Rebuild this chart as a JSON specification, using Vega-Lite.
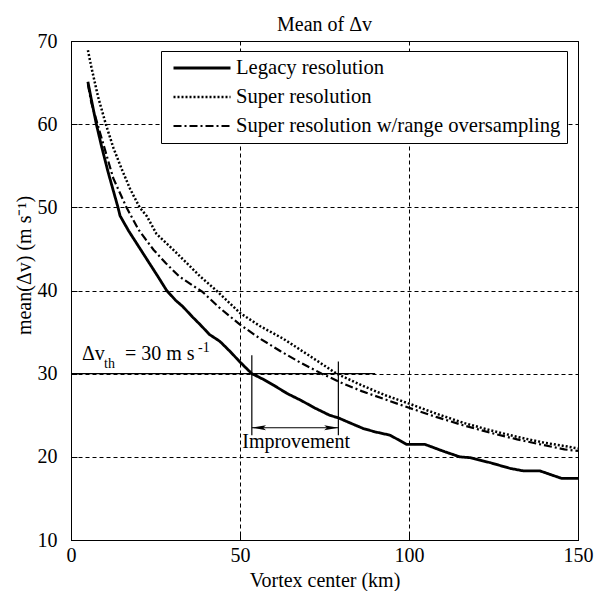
{
  "$schema": "https://vega.github.io/schema/vega-lite/v6.json",
  "width": 507,
  "height": 499,
  "autosize": {"type": "none"},
  "padding": {"left": 71, "top": 41, "right": 16, "bottom": 51},
  "title": {"text": "Mean of Δv", "fontSize": 20, "fontWeight": "normal", "font": "Liberation Serif", "color": "black", "baseline": "bottom", "offset": 4, "dy": 28},
  "config": {
    "font": "Liberation Serif",
    "view": {"stroke": "black", "strokeWidth": 1},
    "axis": {
      "grid": true, "gridColor": "black", "gridDash": [4, 3], "gridOpacity": 1, "gridWidth": 1,
      "domainColor": "black", "domainWidth": 1, "tickColor": "black", "tickSize": -6, "tickWidth": 1,
      "labelFontSize": 20, "labelColor": "black", "labelFont": "Liberation Serif", "labelFlush": false,
      "titleFontSize": 20, "titleFontWeight": "normal", "titleColor": "black", "titleFont": "Liberation Serif"
    }
  },
  "datasets": {
    "curves": [
      {"series": "Legacy resolution", "x": 5, "y": 65.1},
      {"series": "Legacy resolution", "x": 6, "y": 63.0},
      {"series": "Legacy resolution", "x": 7.5, "y": 60.0},
      {"series": "Legacy resolution", "x": 9, "y": 57.4},
      {"series": "Legacy resolution", "x": 11, "y": 54.2},
      {"series": "Legacy resolution", "x": 13.9, "y": 50.0},
      {"series": "Legacy resolution", "x": 14.5, "y": 49.0},
      {"series": "Legacy resolution", "x": 17, "y": 47.2},
      {"series": "Legacy resolution", "x": 20, "y": 45.3},
      {"series": "Legacy resolution", "x": 23, "y": 43.4},
      {"series": "Legacy resolution", "x": 26, "y": 41.5},
      {"series": "Legacy resolution", "x": 28.3, "y": 40.0},
      {"series": "Legacy resolution", "x": 31, "y": 38.8},
      {"series": "Legacy resolution", "x": 33, "y": 38.1},
      {"series": "Legacy resolution", "x": 36, "y": 36.8},
      {"series": "Legacy resolution", "x": 38.2, "y": 35.9},
      {"series": "Legacy resolution", "x": 41, "y": 34.7},
      {"series": "Legacy resolution", "x": 44, "y": 33.9},
      {"series": "Legacy resolution", "x": 47, "y": 32.7},
      {"series": "Legacy resolution", "x": 50, "y": 31.4},
      {"series": "Legacy resolution", "x": 53.5, "y": 30.0},
      {"series": "Legacy resolution", "x": 57, "y": 29.3},
      {"series": "Legacy resolution", "x": 60, "y": 28.6},
      {"series": "Legacy resolution", "x": 64, "y": 27.6},
      {"series": "Legacy resolution", "x": 68, "y": 26.8},
      {"series": "Legacy resolution", "x": 72, "y": 25.9},
      {"series": "Legacy resolution", "x": 76.5, "y": 25.0},
      {"series": "Legacy resolution", "x": 79, "y": 24.7},
      {"series": "Legacy resolution", "x": 83, "y": 24.0},
      {"series": "Legacy resolution", "x": 86.5, "y": 23.4},
      {"series": "Legacy resolution", "x": 90, "y": 23.0},
      {"series": "Legacy resolution", "x": 94.4, "y": 22.6},
      {"series": "Legacy resolution", "x": 99.3, "y": 21.5},
      {"series": "Legacy resolution", "x": 104.7, "y": 21.5},
      {"series": "Legacy resolution", "x": 110, "y": 20.7},
      {"series": "Legacy resolution", "x": 115, "y": 20.0},
      {"series": "Legacy resolution", "x": 118, "y": 19.9},
      {"series": "Legacy resolution", "x": 124, "y": 19.3},
      {"series": "Legacy resolution", "x": 130, "y": 18.6},
      {"series": "Legacy resolution", "x": 134, "y": 18.3},
      {"series": "Legacy resolution", "x": 138.8, "y": 18.3},
      {"series": "Legacy resolution", "x": 145.2, "y": 17.4},
      {"series": "Legacy resolution", "x": 150, "y": 17.4},
      {"series": "Super resolution", "x": 5, "y": 68.9},
      {"series": "Super resolution", "x": 6, "y": 66.9},
      {"series": "Super resolution", "x": 8, "y": 63.3},
      {"series": "Super resolution", "x": 10.3, "y": 60.0},
      {"series": "Super resolution", "x": 12.5, "y": 57.2},
      {"series": "Super resolution", "x": 15, "y": 54.6},
      {"series": "Super resolution", "x": 17.5, "y": 52.2},
      {"series": "Super resolution", "x": 20.3, "y": 50.0},
      {"series": "Super resolution", "x": 22.5, "y": 48.9},
      {"series": "Super resolution", "x": 25.3, "y": 46.8},
      {"series": "Super resolution", "x": 30, "y": 45.0},
      {"series": "Super resolution", "x": 34, "y": 43.4},
      {"series": "Super resolution", "x": 38.2, "y": 41.7},
      {"series": "Super resolution", "x": 43, "y": 40.0},
      {"series": "Super resolution", "x": 50, "y": 37.3},
      {"series": "Super resolution", "x": 56, "y": 35.7},
      {"series": "Super resolution", "x": 62.8, "y": 34.2},
      {"series": "Super resolution", "x": 70, "y": 32.3},
      {"series": "Super resolution", "x": 78.6, "y": 30.0},
      {"series": "Super resolution", "x": 86, "y": 28.6},
      {"series": "Super resolution", "x": 93, "y": 27.4},
      {"series": "Super resolution", "x": 100, "y": 26.4},
      {"series": "Super resolution", "x": 108, "y": 25.2},
      {"series": "Super resolution", "x": 116, "y": 24.1},
      {"series": "Super resolution", "x": 124, "y": 23.2},
      {"series": "Super resolution", "x": 132, "y": 22.4},
      {"series": "Super resolution", "x": 140, "y": 21.7},
      {"series": "Super resolution", "x": 146, "y": 21.3},
      {"series": "Super resolution", "x": 150, "y": 21.0},
      {"series": "Super resolution w/range oversampling", "x": 5, "y": 64.8},
      {"series": "Super resolution w/range oversampling", "x": 6, "y": 62.6},
      {"series": "Super resolution w/range oversampling", "x": 8, "y": 59.8},
      {"series": "Super resolution w/range oversampling", "x": 10, "y": 57.0},
      {"series": "Super resolution w/range oversampling", "x": 12.5, "y": 53.5},
      {"series": "Super resolution w/range oversampling", "x": 16.4, "y": 50.0},
      {"series": "Super resolution w/range oversampling", "x": 20, "y": 47.3},
      {"series": "Super resolution w/range oversampling", "x": 24.4, "y": 44.9},
      {"series": "Super resolution w/range oversampling", "x": 28, "y": 43.3},
      {"series": "Super resolution w/range oversampling", "x": 32, "y": 41.7},
      {"series": "Super resolution w/range oversampling", "x": 36, "y": 40.6},
      {"series": "Super resolution w/range oversampling", "x": 39, "y": 39.8},
      {"series": "Super resolution w/range oversampling", "x": 44, "y": 37.9},
      {"series": "Super resolution w/range oversampling", "x": 50, "y": 35.9},
      {"series": "Super resolution w/range oversampling", "x": 56, "y": 34.2},
      {"series": "Super resolution w/range oversampling", "x": 62, "y": 32.7},
      {"series": "Super resolution w/range oversampling", "x": 68, "y": 31.3},
      {"series": "Super resolution w/range oversampling", "x": 74.2, "y": 30.0},
      {"series": "Super resolution w/range oversampling", "x": 80, "y": 28.9},
      {"series": "Super resolution w/range oversampling", "x": 86, "y": 27.9},
      {"series": "Super resolution w/range oversampling", "x": 93, "y": 26.9},
      {"series": "Super resolution w/range oversampling", "x": 100, "y": 25.9},
      {"series": "Super resolution w/range oversampling", "x": 108, "y": 24.8},
      {"series": "Super resolution w/range oversampling", "x": 116, "y": 23.8},
      {"series": "Super resolution w/range oversampling", "x": 124, "y": 22.9},
      {"series": "Super resolution w/range oversampling", "x": 132, "y": 22.1},
      {"series": "Super resolution w/range oversampling", "x": 140, "y": 21.4},
      {"series": "Super resolution w/range oversampling", "x": 146, "y": 20.9},
      {"series": "Super resolution w/range oversampling", "x": 150, "y": 20.7}
    ],
    "hrules": [
      {"x": 0, "x2": 90, "y": 30, "role": "threshold"},
      {"x": 53.5, "x2": 79.1, "y": 23.5, "role": "arrow"}
    ],
    "vrules": [
      {"x": 53.5, "y": 22.6, "y2": 32.2},
      {"x": 79.1, "y": 22.6, "y2": 31.45}
    ],
    "heads": [
      {"x": 55.6, "y": 23.5, "dir": "left"},
      {"x": 77.0, "y": 23.5, "dir": "right"}
    ],
    "notes": [
      {"x": 3.25, "y": 31.64, "t": "Δv", "kind": "main"},
      {"x": 9.76, "y": 30.68, "t": "th", "kind": "small"},
      {"x": 15.98, "y": 31.64, "t": "= 30 m s", "kind": "main"},
      {"x": 37.57, "y": 32.6, "t": "-1", "kind": "small"},
      {"x": 66.6, "y": 21.1, "t": "Improvement", "kind": "center"}
    ]
  },
  "encoding": {
    "x": {"field": "x", "type": "quantitative",
      "scale": {"domain": [0, 150], "nice": false, "zero": false},
      "axis": {"values": [0, 50, 100, 150], "title": "Vortex center (km)", "labelPadding": 11, "titlePadding": 5}},
    "y": {"field": "y", "type": "quantitative",
      "scale": {"domain": [10, 70], "nice": false, "zero": false},
      "axis": {"values": [10, 20, 30, 40, 50, 60, 70], "title": "mean(Δv) (m s⁻¹)", "labelPadding": 20, "titlePadding": 3, "titleY": 224}}
  },
  "layer": [
    {
      "data": {"name": "curves"},
      "mark": {"type": "line", "color": "black"},
      "encoding": {
        "strokeDash": {"field": "series", "type": "nominal",
          "scale": {"domain": ["Legacy resolution", "Super resolution", "Super resolution w/range oversampling"],
                    "range": [[1, 0], [2, 2], [8, 3, 2, 3]]},
          "legend": {"title": null, "orient": "none", "legendX": 90, "legendY": 10,
            "symbolType": "M -3 0 H 3", "symbolSize": 361, "symbolStrokeWidth": 2.2, "symbolStrokeColor": "black",
            "labelFontSize": 20.6, "labelFont": "Liberation Serif", "labelColor": "black", "labelLimit": 600,
            "strokeColor": "black", "fillColor": "white", "padding": 6, "rowPadding": 7,
            "symbolOffset": 24, "labelOffset": 23}},
        "strokeWidth": {"field": "series", "type": "nominal", "legend": null,
          "scale": {"domain": ["Legacy resolution", "Super resolution", "Super resolution w/range oversampling"],
                    "range": [2.8, 2.2, 2.2]}}
      }
    },
    {
      "data": {"name": "hrules"},
      "mark": {"type": "rule", "color": "black", "strokeWidth": 1.2},
      "encoding": {"x2": {"field": "x2"}}
    },
    {
      "data": {"name": "vrules"},
      "mark": {"type": "rule", "color": "black", "strokeWidth": 1.2},
      "encoding": {"y2": {"field": "y2"}}
    },
    {
      "data": {"name": "heads"},
      "mark": {"type": "point", "filled": true, "color": "black", "opacity": 1, "size": 200},
      "encoding": {
        "shape": {"field": "dir", "type": "nominal", "legend": null,
          "scale": {"domain": ["left", "right"], "range": ["M -1 0 L 1 -0.35 L 0.6 0 L 1 0.35 Z", "M 1 0 L -1 -0.35 L -0.6 0 L -1 0.35 Z"]}}
      }
    },
    {
      "data": {"name": "notes"},
      "transform": [{"filter": "datum.kind === 'main'"}],
      "mark": {"type": "text", "align": "left", "baseline": "alphabetic", "fontSize": 20, "font": "Liberation Serif", "color": "black"},
      "encoding": {"text": {"field": "t"}}
    },
    {
      "data": {"name": "notes"},
      "transform": [{"filter": "datum.kind === 'small'"}],
      "mark": {"type": "text", "align": "left", "baseline": "alphabetic", "fontSize": 14, "font": "Liberation Serif", "color": "black"},
      "encoding": {"text": {"field": "t"}}
    },
    {
      "data": {"name": "notes"},
      "transform": [{"filter": "datum.kind === 'center'"}],
      "mark": {"type": "text", "align": "center", "baseline": "alphabetic", "fontSize": 20, "font": "Liberation Serif", "color": "black"},
      "encoding": {"text": {"field": "t"}}
    }
  ]
}
